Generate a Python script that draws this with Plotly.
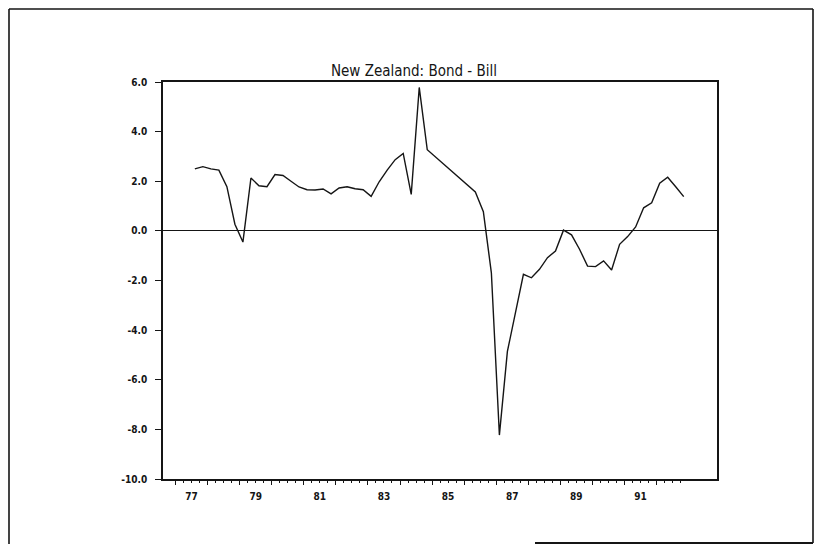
import plotly.graph_objects as go

# ---- data (quarterly) ----
quarters = ["1977Q3", "1977Q4", "1978Q1", "1978Q2", "1978Q3", "1978Q4",
            "1979Q1", "1979Q2", "1979Q3", "1979Q4", "1980Q1", "1980Q2",
            "1980Q3", "1980Q4", "1981Q1", "1981Q2", "1981Q3", "1981Q4",
            "1982Q1", "1982Q2", "1982Q3", "1982Q4", "1983Q1", "1983Q2",
            "1983Q3", "1983Q4", "1984Q1", "1984Q2", "1984Q3", "1984Q4",
            "1986Q2", "1986Q3", "1986Q4", "1987Q1", "1987Q2", "1987Q3",
            "1987Q4", "1988Q1", "1988Q2", "1988Q3", "1988Q4", "1989Q1",
            "1989Q2", "1989Q3", "1989Q4", "1990Q1", "1990Q2", "1990Q3",
            "1990Q4", "1991Q1", "1991Q2", "1991Q3", "1991Q4", "1992Q1",
            "1992Q2", "1992Q3", "1992Q4"]
bond_minus_bill = [2.50, 2.59, 2.50, 2.45, 1.78, 0.27,
                   -0.45, 2.13, 1.82, 1.78, 2.27, 2.23,
                   2.00, 1.77, 1.66, 1.65, 1.69, 1.49,
                   1.73, 1.78, 1.70, 1.66, 1.39, 1.98,
                   2.45, 2.87, 3.12, 1.47, 5.78, 3.27,
                   1.57, 0.77, -1.69, -8.23, -4.86, -3.24,
                   -1.75, -1.89, -1.55, -1.08, -0.81, 0.03,
                   -0.16, -0.74, -1.42, -1.44, -1.21, -1.58,
                   -0.54, -0.23, 0.16, 0.93, 1.13, 1.92,
                   2.16, 1.78, 1.38]

x_label_years = [77, 79, 81, 83, 85, 87, 89, 91]
y_tick_values = [6, 4, 2, 0, -2, -4, -6, -8, -10]
y_tick_labels = ["6.0", "4.0", "2.0", "0.0", "-2.0", "-4.0", "-6.0", "-8.0", "-10.0"]
title_text = "New Zealand: Bond - Bill"

# quarter -> decimal year position
def qpos(q):
    yr, qq = q.split("Q")
    return int(yr) + (int(qq) - 1) / 4 + 0.1

xs = [qpos(q) for q in quarters]

# ---- layout geometry (page pixels; the page body adds an 8px offset) ----
OFF = 8
W, H = 822 - 2 * OFF, 552 - 2 * OFF
L, R, T, B = 163 - OFF, 717 - OFF, 82 - OFF, 479 - OFF
X_RANGE = [1976.607, 1993.888]
Y_RANGE = [-10.0, 6.0]

def px(xp):  # page pixel -> paper x
    return (xp - OFF - L) / (R - L)

def py(yp):  # page pixel -> paper y
    return (B - (yp - OFF)) / (B - T)

FONT = "Liberation Sans Narrow, DejaVu Sans Condensed, Arial Narrow, sans-serif"
INK = "#151515"

fig = go.Figure()
fig.add_trace(go.Scatter(x=xs, y=bond_minus_bill, mode="lines",
                         line=dict(color=INK, width=1.4),
                         showlegend=False, hoverinfo="skip"))
# empty trace so the tick-only axis is rendered
fig.add_trace(go.Scatter(x=[None], y=[None], xaxis="x2", showlegend=False,
                         hoverinfo="skip"))

major_years = list(range(1977, 1993))
quarter_ticks = [y + k / 4 for y in range(1977, 1993) for k in range(4)]

fig.update_layout(
    width=W, height=H,
    margin=dict(l=L, r=W - R, t=T, b=H - B, pad=0),
    paper_bgcolor="white", plot_bgcolor="white",
    title=dict(text=title_text, x=(414 - OFF) / W, xanchor="center",
               y=1 - (71 - OFF) / H, yanchor="middle",
               font=dict(family=FONT, size=15, color=INK)),
    xaxis=dict(range=X_RANGE, showgrid=False, zeroline=False,
               showline=True, linecolor=INK, linewidth=1.5, mirror=True,
               tickmode="array",
               tickvals=[1900 + y + 0.5 for y in x_label_years],
               ticktext=[str(y) for y in x_label_years],
               ticks="", ticklabelstandoff=7,
               tickfont=dict(family=FONT, size=10, color=INK, weight="bold")),
    xaxis2=dict(range=X_RANGE, overlaying="x", anchor="y", side="bottom",
                showgrid=False, zeroline=False, showline=False,
                showticklabels=False, tickmode="array",
                tickvals=major_years, ticks="outside", ticklen=5,
                tickwidth=1.3, tickcolor=INK,
                minor=dict(tickmode="array", tickvals=quarter_ticks,
                           ticks="outside", ticklen=2.5, tickwidth=1.1,
                           tickcolor=INK, showgrid=False)),
    yaxis=dict(range=Y_RANGE, showgrid=False,
               zeroline=True, zerolinecolor=INK, zerolinewidth=1.4,
               showline=True, linecolor=INK, linewidth=1.5, mirror=True,
               tickmode="array", tickvals=y_tick_values, ticktext=y_tick_labels,
               ticks="outside", ticklen=6, tickwidth=1.4, tickcolor=INK,
               ticklabelstandoff=6,
               tickfont=dict(family=FONT, size=10, color=INK, weight="bold")),
    shapes=[
        # outer page frame
        dict(type="line", xref="paper", yref="paper",
             x0=px(9), x1=px(9), y0=py(9), y1=py(544), line=dict(color=INK, width=1.6)),
        dict(type="line", xref="paper", yref="paper",
             x0=px(9), x1=px(813), y0=py(9), y1=py(9), line=dict(color=INK, width=1.6)),
        dict(type="line", xref="paper", yref="paper",
             x0=px(813), x1=px(813), y0=py(9), y1=py(543), line=dict(color=INK, width=1.6)),
        dict(type="line", xref="paper", yref="paper",
             x0=px(535), x1=px(813), y0=py(543), y1=py(543), line=dict(color=INK, width=2)),
    ],
)

fig.write_html("out.html")
